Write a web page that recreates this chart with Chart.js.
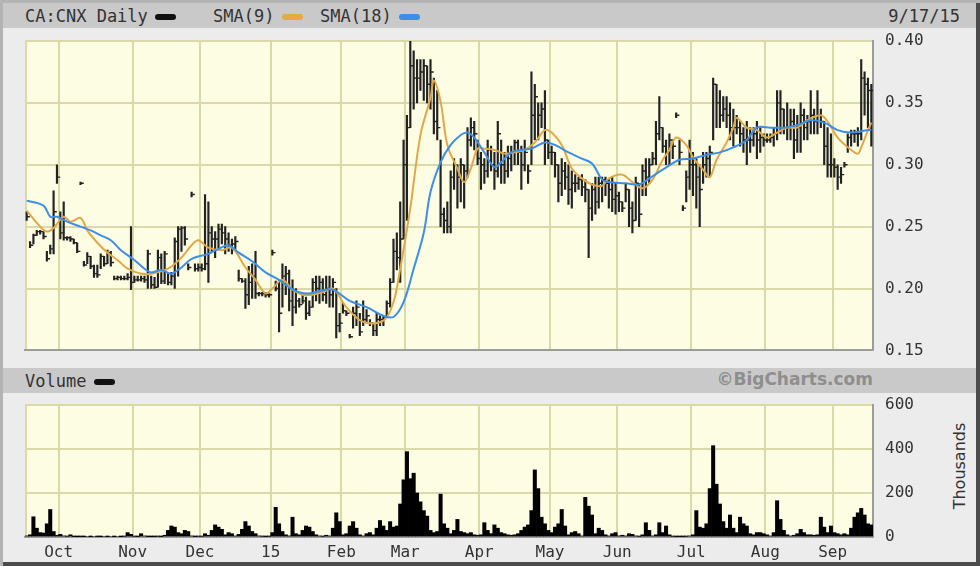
<!DOCTYPE html>
<html>
<head>
<meta charset="utf-8">
<script src="https://cdn.jsdelivr.net/npm/chart.js@4.4.1/dist/chart.umd.min.js"></script>
<style>
    html, body { margin: 0; padding: 0; background: #fff; }
    #frame {
        position: relative; width: 980px; height: 566px; overflow: hidden;
        background: #ececec;
        box-shadow: inset 3px 3px 0 #b4b4b4, inset -4px -4px 0 #4c4c4c;
        font-family: 'DejaVu Sans Mono', monospace; color: #333;
    }
    .strip { position: absolute; left: 3px; right: 4px; height: 25px; background: #c9c9c9; }
    .txt { position: absolute; white-space: nowrap; line-height: 1; }
    .swatch { position: absolute; width: 21px; height: 6px; border-radius: 3px; }
    canvas { position: absolute; left: 0; }
</style>
</head>
<body>
<div id="frame">
    <div class="strip" style="top:3px"></div>
    <div class="txt" style="left:25px;top:8px;font-size:17px">CA:CNX Daily</div>
    <div class="swatch" style="left:155px;top:14px;background:#111"></div>
    <div class="txt" style="left:213px;top:8px;font-size:17px">SMA(9)</div>
    <div class="swatch" style="left:282px;top:14px;background:#e3aa45"></div>
    <div class="txt" style="left:320px;top:8px;font-size:17px">SMA(18)</div>
    <div class="swatch" style="left:399px;top:14px;background:#3d8ee8"></div>
    <div class="txt" style="right:20px;top:8px;font-size:17px">9/17/15</div>

    <div class="strip" style="top:368px"></div>
    <div class="txt" style="left:25px;top:373px;font-size:17px">Volume</div>
    <div class="swatch" style="left:94px;top:379px;background:#111"></div>
    <div class="txt" style="right:107px;top:371px;font-size:17px;font-weight:bold;font-family:'DejaVu Sans',sans-serif;color:#8e8e8e">©BigCharts.com</div>
    <div class="txt" style="left:960px;top:466px;font-size:16px;font-family:'DejaVu Sans',sans-serif;transform:translate(-50%,-50%) rotate(-90deg)">Thousands</div>

    <canvas id="price" width="980" height="372" style="top:0"></canvas>
    <canvas id="volume" width="980" height="206" style="top:360px"></canvas>
</div>

<script>
// CA:CNX daily, 17 Sep 2014 - 17 Sep 2015, one entry per trading day

const monthStart = [10, 32, 52, 73, 94, 113, 135, 156, 176, 198, 220, 240];
const monthLabels = ['Oct', 'Nov', 'Dec', '15', 'Feb', 'Mar', 'Apr', 'May', 'Jun', 'Jul', 'Aug', 'Sep'];

const high = [
    .262, .238, .244, .247, .247, .246, .230, .235, .279, .300,                                    // Sep
    .262, .270, .242, .242, .240, .237, .286, .222, .229, .226, .219, .219, .228, .226, .231, .230,
    .210, .210, .210, .210, .212, .250,                                                            // Oct
    .210, .210, .210, .210, .231, .210, .209, .231, .228, .230, .212, .213, .241, .250, .250, .250,
    .220, .278, .220, .220,                                                                        // Nov
    .220, .276, .270, .250, .246, .252, .252, .250, .245, .240, .242, .215, .208, .208, .218, .220,
    .230, .197, .197, .197, .196,                                                                  // Dec
    .231, .206, .207, .220, .218, .215, .207, .200, .192, .195, .193, .190, .208, .210, .210, .208,
    .210, .210, .208, .200, .180,                                                                  // Jan
    .188, .182, .163, .185, .190, .180, .190, .183, .175, .172, .180, .178, .178, .190, .208, .240,
    .245, .270, .320,                                                                              // Feb
    .340, .400, .392, .385, .385, .385, .380, .385, .370, .360, .320, .265, .270, .295, .305, .300,
    .305, .300, .330, .338, .335, .320,                                                            // Mar
    .310, .305, .320, .315, .310, .335, .320, .310, .315, .315, .320, .320, .315, .320, .300, .375,
    .365, .350, .350, .360, .320,                                                                  // Apr
    .315, .310, .300, .305, .302, .300, .295, .292, .290, .292, .288, .280, .285, .290, .290, .290,
    .290, .288, .290, .285,                                                                        // May
    .278, .270, .285, .280, .270, .290, .285, .300, .305, .305, .310, .335, .355, .330, .320, .325,
    .320, .342, .320, .267, .295, .320,                                                            // Jun
    .310, .305, .300, .310, .310, .315, .370, .365, .360, .355, .355, .350, .345, .340, .335, .330,
    .335, .330, .330, .335, .330, .325,                                                            // Jul
    .325, .325, .330, .360, .360, .345, .350, .345, .345, .340, .350, .345, .340, .360, .345, .360,
    .345, .335, .330, .325,                                                                        // Aug
    .305, .300, .298, .302, .325, .328, .328, .330, .385, .375, .370, .365                         // Sep
];

const low = [
    .255, .233, .236, .243, .244, .240, .222, .228, .228, .285,
    .240, .239, .239, .238, .236, .229, .284, .218, .220, .216, .209, .209, .216, .218, .220, .218,
    .207, .207, .207, .207, .207, .199,
    .205, .206, .206, .205, .200, .200, .200, .201, .204, .204, .203, .203, .200, .210, .230, .235,
    .215, .274, .214, .214,
    .214, .215, .205, .230, .225, .233, .236, .228, .230, .228, .232, .206, .205, .184, .187, .192,
    .192, .194, .194, .193, .193,
    .227, .198, .165, .185, .195, .182, .170, .180, .185, .188, .175, .178, .185, .190, .188, .190,
    .188, .185, .185, .160, .165,
    .180, .178, .160, .168, .170, .162, .170, .172, .170, .162, .162, .170, .170, .177, .185, .205,
    .215, .205, .240,
    .255, .330, .345, .350, .360, .352, .350, .345, .325, .320, .250, .245, .245, .245, .280, .265,
    .270, .265, .290, .315, .312, .300,
    .280, .285, .290, .295, .280, .290, .285, .285, .290, .295, .300, .300, .280, .295, .285, .300,
    .320, .320, .330, .300, .305,
    .300, .290, .270, .275, .280, .268, .265, .278, .280, .275, .270, .225, .255, .260, .265, .270,
    .275, .265, .262, .260,
    .262, .262, .270, .250, .245, .255, .250, .275, .275, .285, .300, .300, .320, .310, .300, .300,
    .305, .338, .300, .263, .270, .280,
    .275, .265, .250, .285, .290, .290, .320, .330, .330, .335, .330, .320, .315, .325, .315, .310,
    .300, .310, .315, .305, .310, .315,
    .318, .318, .315, .320, .325, .325, .320, .320, .305, .310, .310, .320, .320, .325, .325, .325,
    .330, .300, .290, .290,
    .290, .280, .285, .298, .310, .315, .318, .315, .320, .340, .330, .315
];

const close = [
    .258, .235, .243, .246, .246, .242, .224, .232, .262, .290,
    .245, .241, .241, .240, .237, .230, .285, .219, .226, .218, .212, .211, .226, .220, .229, .221,
    .208, .209, .208, .208, .209, .205,
    .207, .207, .208, .207, .228, .203, .201, .225, .206, .228, .205, .210, .238, .248, .249, .240,
    .217, .276, .216, .217,
    .216, .220, .245, .240, .240, .248, .245, .240, .235, .236, .238, .208, .206, .195, .205, .210,
    .196, .196, .196, .195, .195,
    .229, .200, .180, .210, .212, .190, .185, .190, .187, .190, .180, .185, .205, .200, .205, .195,
    .200, .195, .205, .170, .172,
    .182, .180, .161, .180, .185, .165, .175, .178, .172, .166, .175, .175, .177, .188, .205, .230,
    .225, .240, .300,
    .330, .380, .370, .370, .375, .380, .365, .375, .335, .330, .260, .255, .250, .290, .300, .290,
    .300, .295, .320, .330, .325, .305,
    .300, .295, .312, .300, .295, .325, .300, .295, .305, .310, .318, .310, .300, .310, .295, .340,
    .355, .340, .345, .320, .310,
    .310, .300, .285, .295, .290, .280, .285, .285, .288, .282, .280, .265, .280, .270, .285, .288,
    .285, .280, .272, .275,
    .270, .265, .280, .265, .255, .285, .260, .295, .290, .300, .305, .325, .330, .315, .310, .320,
    .315, .340, .310, .265, .290, .300,
    .300, .290, .280, .300, .305, .310, .365, .350, .340, .345, .340, .330, .330, .330, .325, .320,
    .320, .320, .325, .320, .322, .320,
    .320, .322, .325, .350, .345, .330, .330, .335, .320, .330, .340, .330, .335, .340, .335, .340,
    .335, .315, .300, .300,
    .298, .290, .292, .300, .322, .325, .325, .325, .370, .365, .360, .360
];

// volume, thousands of shares
const volume = [
    5, 10, 92, 40, 20, 18, 60, 125, 25, 8,
    12, 5, 3, 10, 2, 1, 2, 1, 0, 1, 0, 2, 1, 0, 1, 0, 1, 0, 1, 3, 20, 12,
    3, 2, 15, 5, 2, 1, 2, 3, 2, 8, 30, 50, 45, 20, 15, 30, 25, 5, 2, 3,
    3, 15, 8, 30, 55, 45, 35, 10, 20, 15, 5, 12, 35, 70, 50, 25, 15, 5, 3, 2, 3,
    20, 135, 60, 25, 10, 5, 90, 15, 10, 30, 50, 45, 25, 10, 5, 3, 8, 5, 40, 110, 70,
    10, 15, 50, 70, 40, 10, 5, 15, 20, 10, 40, 75, 50, 30, 70, 45, 50, 150, 260,
    388, 265, 290, 200, 160, 120, 95, 30, 20, 25, 195, 60, 40, 15, 30, 80, 25, 20, 15, 20, 10, 8,
    10, 65, 30, 15, 55, 40, 20, 15, 10, 8, 10, 15, 30, 45, 55, 120, 305, 220, 90, 60, 30,
    20, 45, 60, 125, 50, 10, 20, 25, 15, 5, 180, 140, 100, 15, 40, 30, 10, 5, 15, 20,
    5, 8, 5, 15, 12, 5, 3, 10, 65, 30, 5, 10, 65, 20, 50, 10, 3, 2, 2, 2, 3, 5,
    10, 120, 45, 40, 60, 220, 415, 240, 150, 70, 40, 100, 40, 20, 90, 60, 50, 15, 10, 20, 20, 15,
    10, 5, 20, 165, 80, 30, 10, 5, 8, 15, 35, 20, 10, 10, 8, 10, 90, 45, 20, 50,
    20, 15, 10, 15, 10, 40, 90, 110, 130, 100, 60, 55
];

// moving averages as drawn on the picture (trading-day index -> value)
const sma9Day = [0, 4, 6, 8, 11, 13, 16, 18, 21, 24, 27, 30, 34, 37, 42, 46, 49, 51, 54, 58, 61, 65, 68, 71, 73,
    76, 79, 82, 85, 88, 91, 95, 100, 106, 109, 111, 114, 117, 120, 121, 123, 125, 128, 130, 132, 134, 136,
    139, 142, 145, 148, 151, 154, 156, 159, 162, 165, 168, 171, 173, 177, 180, 183, 186, 189, 191, 193, 196,
    198, 201, 203, 205, 208, 210, 211, 214, 217, 220, 223, 226, 229, 232, 236, 238, 241, 245, 247, 248, 250, 251];
const sma9 = [.263, .250, .246, .249, .258, .254, .257, .247, .237, .229, .223, .216, .212, .212, .216, .225,
    .235, .239, .233, .231, .233, .217, .207, .196, .200, .207, .199, .195, .195, .197, .200, .185, .173,
    .174, .189, .216, .265, .324, .354, .368, .351, .316, .297, .286, .297, .313, .313, .312, .309, .310,
    .312, .318, .328, .326, .316, .297, .289, .284, .283, .289, .292, .286, .281, .288, .304, .312, .322,
    .316, .306, .296, .290, .304, .318, .330, .338, .330, .328, .322, .326, .330, .330, .336, .340, .335,
    .322, .312, .309, .314, .328, .334];

const sma18Day = [0, 5, 7, 9, 12, 16, 19, 22, 25, 28, 32, 35, 37, 40, 43, 46, 49, 54, 57, 60, 63, 67, 71, 75,
    78, 81, 84, 87, 91, 96, 101, 106, 109, 112, 115, 118, 120, 123, 126, 129, 131, 133, 136, 139, 141, 144,
    147, 150, 154, 157, 161, 165, 168, 171, 173, 178, 182, 185, 189, 194, 198, 202, 206, 210, 214, 217, 221,
    225, 229, 233, 237, 241, 245, 250, 251];
const sma18 = [.271, .267, .258, .258, .254, .250, .247, .243, .239, .231, .223, .216, .213, .215, .212, .217,
    .224, .228, .232, .235, .229, .222, .213, .207, .201, .197, .196, .198, .199, .190, .185, .178, .177,
    .189, .216, .245, .278, .302, .316, .324, .326, .322, .310, .298, .302, .310, .312, .313, .318, .316,
    .310, .305, .301, .288, .286, .285, .284, .289, .296, .304, .305, .308, .310, .314, .320, .330, .330,
    .330, .332, .336, .334, .328, .326, .328, .328];

const BAR = '#222';
const GRID = '#dadaa8';
const EDGE = '#9c9c9c';
const INK = '#333';
const MONO = { family: "'DejaVu Sans Mono', monospace", size: 16 };

Chart.defaults.animation = false;
Chart.defaults.events = [];
Chart.defaults.plugins.legend.display = false;
Chart.defaults.plugins.tooltip.enabled = false;

const plotBg = {
    id: 'plotBg',
    beforeDraw(chart) {
        const { ctx, chartArea: a } = chart;
        ctx.save();
        ctx.fillStyle = '#fdfde4';
        ctx.fillRect(a.left, a.top, a.width, a.height);
        ctx.strokeStyle = GRID;
        ctx.lineWidth = 2;
        ctx.beginPath();
        ctx.moveTo(a.left + 1, a.top);
        ctx.lineTo(a.left + 1, a.bottom);
        ctx.stroke();
        ctx.restore();
    }
};

function timeAxis(showLabels) {
    return {
        type: 'linear',
        min: -0.5,
        max: high.length - 0.5,
        offset: false,
        afterBuildTicks: s => { s.ticks = monthStart.map(v => ({ value: v - 0.5 })); },
        afterFit: s => { s.height = showLabels ? 25 : 0; },
        grid: { color: GRID, lineWidth: 2, drawTicks: false, offset: false },
        border: { display: true, color: EDGE, width: 2 },
        ticks: {
            display: showLabels, autoSkip: false, maxRotation: 0, padding: 6,
            color: INK, font: MONO,
            callback: (v, i) => monthLabels[i]
        }
    };
}

function valueAxis(min, max, step, fmt) {
    return {
        position: 'right',
        min: min, max: max,
        afterFit: s => { s.width = 107; },
        grid: { color: GRID, lineWidth: 2, drawTicks: false },
        border: { display: true, color: EDGE, width: 2 },
        ticks: { stepSize: step, padding: 12, color: INK, font: MONO, callback: fmt }
    };
}

const xy = (days, vals) => days.map((d, k) => ({ x: d, y: vals[k] }));

new Chart(document.getElementById('price'), {
    type: 'bar',
    data: {
        datasets: [
            {
                type: 'line', data: xy(sma18Day, sma18), borderColor: '#3d8ee8', borderWidth: 2,
                pointRadius: 0, tension: 0.35, order: 0
            },
            {
                type: 'line', data: xy(sma9Day, sma9), borderColor: '#e0a848', borderWidth: 2,
                pointRadius: 0, tension: 0.35, order: 1
            },
            {
                // close tick on the right of each bar
                type: 'line', showLine: false, order: 2,
                data: close.map((c, i) => ({ x: i + 0.45, y: c })),
                pointStyle: 'line', pointRadius: 1.7, pointBorderWidth: 1.4, pointBorderColor: BAR
            },
            {
                type: 'bar', order: 3,
                data: high.map((h, i) => ({ x: i, y: [low[i], h] })),
                backgroundColor: BAR, barThickness: 1.5, minBarLength: 2
            }
        ]
    },
    options: {
        responsive: false,
        layout: { padding: { left: 25, top: 41, right: 0, bottom: 10 } },
        scales: {
            x: timeAxis(false),
            y: valueAxis(0.15, 0.40, 0.05, v => v.toFixed(2))
        }
    },
    plugins: [plotBg]
});

new Chart(document.getElementById('volume'), {
    type: 'bar',
    data: {
        datasets: [{
            data: volume.map((v, i) => ({ x: i, y: v })),
            backgroundColor: '#000', barPercentage: 1, categoryPercentage: 1
        }]
    },
    options: {
        responsive: false,
        layout: { padding: { left: 25, top: 45, right: 0, bottom: 4 } },
        scales: {
            x: timeAxis(true),
            y: valueAxis(0, 600, 200, v => String(v))
        }
    },
    plugins: [plotBg]
});
</script>
</body>
</html>
